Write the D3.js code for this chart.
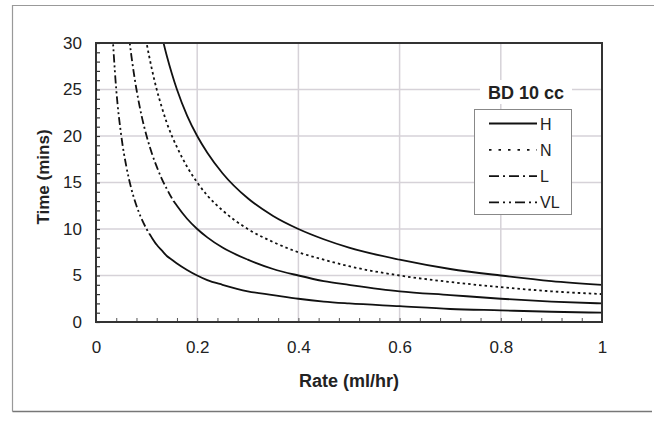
<!DOCTYPE html>
<html>
<head>
<meta charset="utf-8">
<script src="https://cdn.jsdelivr.net/npm/d3@7"></script>
<style>
  body { margin: 0; background: #fff; }
  text { font-family: "Liberation Sans", Arial, sans-serif; fill: #222; }
</style>
</head>
<body>
<svg id="chart" width="654" height="434"></svg>
<script>
// values (time in mins vs rate in ml/hr)
var rates  = [0.03, 0.04, 0.05, 0.06, 0.07, 0.08, 0.09, 0.1, 0.11, 0.12, 0.13, 0.14, 0.15, 0.16, 0.18, 0.2, 0.22, 0.25, 0.3, 0.35, 0.4, 0.45, 0.5, 0.6, 0.7, 0.8, 0.9, 1.0];
var timeH  = [133, 100, 80, 66.7, 57.1, 50, 44.4, 40, 36.4, 33.3, 30.8, 28.6, 26.7, 25, 22.2, 20, 18.2, 16, 13.3, 11.4, 10, 8.9, 8, 6.7, 5.7, 5, 4.4, 4];
var timeN  = [100, 75, 60, 50, 42.9, 37.5, 33.3, 30, 27.3, 25, 23.1, 21.4, 20, 18.8, 16.7, 15, 13.6, 12, 10, 8.6, 7.5, 6.7, 6, 5, 4.3, 3.75, 3.3, 3];
var timeL  = [66.7, 50, 40, 33.3, 28.6, 25, 22.2, 20, 18.2, 16.7, 15.4, 14.3, 13.3, 12.5, 11.1, 10, 9.1, 8, 6.7, 5.7, 5, 4.4, 4, 3.3, 2.9, 2.5, 2.2, 2];
var timeVL = [33.3, 25, 20, 16.7, 14.3, 12.5, 11.1, 10, 9.1, 8.3, 7.7, 7.1, 6.7, 6.3, 5.6, 5, 4.5, 4, 3.3, 2.9, 2.5, 2.2, 2, 1.7, 1.4, 1.25, 1.1, 1];
var seriesNames = ["H", "N", "L", "VL"];
var xTicks = [0, 0.2, 0.4, 0.6, 0.8, 1];
var yTicks = [0, 5, 10, 15, 20, 25, 30];

var series = [
  {name: seriesNames[0], vals: timeH,  dash: null,          legendDash: null},
  {name: seriesNames[1], vals: timeN,  dash: "2.5,3",       legendDash: "2.5,7"},
  {name: seriesNames[2], vals: timeL,  dash: "8,3,2,3",     legendDash: "10,4,2,4",     solidBelow: 13},
  {name: seriesNames[3], vals: timeVL, dash: "8,3,2,3,2,3", legendDash: "10,4,2,4,2,4", solidBelow: 9.5}
];

var svg = d3.select("#chart"),
    pLeft = 96, pTop = 43, pRight = 602, pBottom = 322;

// outer frame (open on the right)
svg.append("path").attr("d", "M654,5.5H12.5V411.5").attr("fill", "none").attr("stroke", "#999").attr("stroke-width", 1.2);
svg.append("path").attr("d", "M12.5,411.5H652").attr("fill", "none").attr("stroke", "#777").attr("stroke-width", 1.5);

var x = d3.scaleLinear().domain([0, 1]).range([pLeft, pRight]);
var y = d3.scaleLinear().domain([0, 30]).range([pBottom, pTop]);

// grid
svg.append("g").selectAll("line").data(yTicks.slice(1, -1)).enter().append("line")
  .attr("x1", pLeft).attr("x2", pRight).attr("y1", function(d) { return y(d); }).attr("y2", function(d) { return y(d); })
  .attr("stroke", "#d6d2d8").attr("stroke-width", 1.5);
svg.append("g").selectAll("line").data(xTicks.slice(1, -1)).enter().append("line")
  .attr("y1", pTop).attr("y2", pBottom).attr("x1", function(d) { return x(d); }).attr("x2", function(d) { return x(d); })
  .attr("stroke", "#d6d2d8").attr("stroke-width", 1.5);

// minor ticks pointing inward
svg.append("g").attr("transform", "translate(" + pLeft + ",0)")
  .call(d3.axisRight(y).tickValues(d3.range(0, 31, 1)).tickSize(4).tickFormat(""))
  .call(function(g) { g.select(".domain").remove(); g.selectAll("line").attr("stroke", "#333").attr("stroke-width", 1.2); });
svg.append("g").attr("transform", "translate(0," + pBottom + ")")
  .call(d3.axisTop(x).tickValues(d3.range(0, 26, 1).map(function(i) { return i * 0.04; })).tickSize(4).tickFormat(""))
  .call(function(g) { g.select(".domain").remove(); g.selectAll("line").attr("stroke", "#555").attr("stroke-width", 1); });

// tick labels
svg.append("g").attr("transform", "translate(" + pLeft + ",0)")
  .call(d3.axisLeft(y).tickValues(yTicks).tickSize(0).tickPadding(14).tickFormat(d3.format("d")))
  .call(function(g) { g.select(".domain").remove(); g.selectAll("text").style("font-size", "17px").attr("fill", "#222"); });
svg.append("g").attr("transform", "translate(0," + pBottom + ")")
  .call(d3.axisBottom(x).tickValues(xTicks).tickSize(0).tickPadding(19).tickFormat(function(d) { return d === 0 || d === 1 ? d : d.toFixed(1); }))
  .call(function(g) { g.select(".domain").remove(); g.selectAll("text").style("font-size", "17px").attr("fill", "#222"); });

// clip regions
var defs = svg.append("defs");
defs.append("clipPath").attr("id", "plotClip").append("rect")
  .attr("x", pLeft).attr("y", pTop).attr("width", pRight - pLeft).attr("height", pBottom - pTop);

var line = d3.line()
  .x(function(d, i) { return x(rates[i]); })
  .y(function(d) { return y(d); })
  .curve(d3.curveMonotoneX);

var curves = svg.append("g").attr("clip-path", "url(#plotClip)");
series.forEach(function(s, k) {
  if (s.solidBelow == null) {
    curves.append("path").attr("d", line(s.vals)).attr("fill", "none")
      .attr("stroke", "#111").attr("stroke-width", 1.8)
      .attr("stroke-dasharray", s.dash);
    return;
  }
  // upper steep part keeps its dash pattern, the flat tail reads as solid
  var cut = y(s.solidBelow);
  defs.append("clipPath").attr("id", "top" + k).append("rect")
    .attr("x", pLeft).attr("y", pTop).attr("width", pRight - pLeft).attr("height", cut - pTop);
  defs.append("clipPath").attr("id", "bot" + k).append("rect")
    .attr("x", pLeft).attr("y", cut).attr("width", pRight - pLeft).attr("height", pBottom - cut);
  curves.append("path").attr("d", line(s.vals)).attr("fill", "none")
    .attr("stroke", "#111").attr("stroke-width", 1.8)
    .attr("stroke-dasharray", s.dash).attr("clip-path", "url(#top" + k + ")");
  curves.append("path").attr("d", line(s.vals)).attr("fill", "none")
    .attr("stroke", "#111").attr("stroke-width", 1.8)
    .attr("clip-path", "url(#bot" + k + ")");
});

// plot frame
svg.append("rect").attr("x", pLeft).attr("y", pTop).attr("width", pRight - pLeft).attr("height", pBottom - pTop)
  .attr("fill", "none").attr("stroke", "#333").attr("stroke-width", 2);

// axis titles
svg.append("text").attr("x", 349).attr("y", 387)
  .attr("text-anchor", "middle").style("font-size", "18px").style("font-weight", "bold").text("Rate (ml/hr)");
svg.append("text").attr("transform", "translate(49,177) rotate(-90)")
  .attr("text-anchor", "middle").style("font-size", "17px").style("font-weight", "bold").text("Time (mins)");

// legend
svg.append("rect").attr("x", 480).attr("y", 80).attr("width", 92).attr("height", 24).attr("fill", "#fff");
svg.append("text").attr("x", 526).attr("y", 99).attr("text-anchor", "middle")
  .style("font-size", "18px").style("font-weight", "bold").text("BD 10 cc");
var lg = svg.append("g");
lg.append("rect").attr("x", 474.5).attr("y", 109.5).attr("width", 97).attr("height", 105)
  .attr("fill", "#fff").attr("stroke", "#888").attr("stroke-width", 1);
var item = lg.selectAll(".item").data(series).enter().append("g").attr("class", "item")
  .attr("transform", function(d, i) { return "translate(0," + (123.5 + i * 26.3) + ")"; });
item.append("line").attr("x1", 489).attr("x2", 537).attr("y1", 0).attr("y2", 0)
  .attr("stroke", "#111").attr("stroke-width", 1.8)
  .attr("stroke-dasharray", function(d) { return d.legendDash; });
item.append("text").attr("x", 540).attr("y", 6).style("font-size", "16px").text(function(d) { return d.name; });
</script>
</body>
</html>
